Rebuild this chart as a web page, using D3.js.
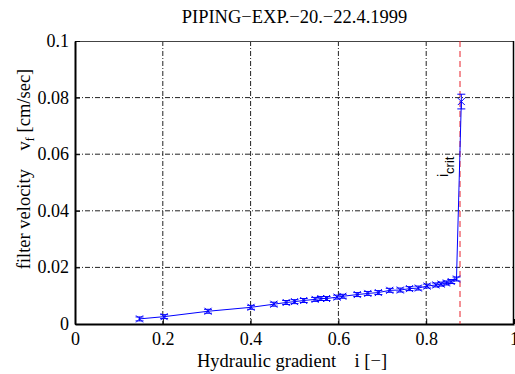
<!DOCTYPE html>
<html>
<head>
  <meta charset="utf-8">
  <script src="https://d3js.org/d3.v7.min.js"></script>
  <style>
    body { margin: 0; background: #fff; }
    text { font-family: "Liberation Serif", "Times New Roman", serif; fill: #000; }
    .crit { font-family: "Liberation Sans", Arial, sans-serif; }
  </style>
</head>
<body>
  <div id="chart"></div>
  <script type="text/javascript">
  // hydraulic gradient i [-]
  var gradient = [0.147, 0.203, 0.303, 0.401, 0.453, 0.481, 0.500, 0.521, 0.547, 0.560,
                  0.573, 0.597, 0.610, 0.643, 0.667, 0.691, 0.717, 0.741, 0.762, 0.782,
                  0.802, 0.822, 0.834, 0.846, 0.857, 0.869, 0.880];
  // filter velocity v_f [cm/sec]
  var velocity = [0.0018, 0.0026, 0.0045, 0.0059, 0.0070, 0.0076, 0.0079, 0.0083, 0.0087, 0.0090,
                  0.0090, 0.0095, 0.0098, 0.0104, 0.0108, 0.0111, 0.0119, 0.0120, 0.0125, 0.0127,
                  0.0134, 0.0138, 0.0141, 0.0145, 0.0150, 0.0159, 0.0786];
  var errors = [0.0007, 0.0007, 0.0007, 0.0007, 0.0007, 0.0007, 0.0007, 0.0007, 0.0007, 0.0007,
                0.0007, 0.0007, 0.0007, 0.0007, 0.0007, 0.0007, 0.0007, 0.0007, 0.0007, 0.0007,
                0.0007, 0.0007, 0.0007, 0.0007, 0.0007, 0.0007, 0.0026];
  var iCrit = 0.877;
  var xTicks = [0, 0.2, 0.4, 0.6, 0.8, 1];
  var yTicks = [0, 0.02, 0.04, 0.06, 0.08, 0.1];

  var width = 515, height = 374;
  var mLeft = 75, mRight = 514, mTop = 41, mBottom = 324;

  var svg = d3.select("#chart").append("svg")
      .attr("width", width)
      .attr("height", height);

  svg.append("rect").attr("width", width).attr("height", height).attr("fill", "#fff");

  var x = d3.scaleLinear().domain([0, 1]).range([mLeft, mRight]);
  var y = d3.scaleLinear().domain([0, 0.1]).range([mBottom, mTop]);

  // grid (dash-dot)
  var grid = svg.append("g");
  grid.selectAll(".gx").data(xTicks.slice(1, -1)).enter().append("line")
      .attr("x1", function(d) { return x(d); }).attr("x2", function(d) { return x(d); })
      .attr("y1", mTop).attr("y2", mBottom)
      .attr("stroke", "#222").attr("stroke-width", 1)
      .attr("stroke-dasharray", "5,2,1,2");
  grid.selectAll(".gy").data(yTicks.slice(1, -1)).enter().append("line")
      .attr("y1", function(d) { return y(d); }).attr("y2", function(d) { return y(d); })
      .attr("x1", mLeft).attr("x2", mRight)
      .attr("stroke", "#222").attr("stroke-width", 1)
      .attr("stroke-dasharray", "5,2,1,2");

  // box: top and right
  svg.append("line").attr("x1", mLeft).attr("x2", mRight).attr("y1", mTop + 0.5).attr("y2", mTop + 0.5)
      .attr("stroke", "#444").attr("stroke-width", 1);
  svg.append("line").attr("x1", mRight - 0.5).attr("x2", mRight - 0.5).attr("y1", mTop).attr("y2", mBottom)
      .attr("stroke", "#000").attr("stroke-width", 1.5);

  // axes
  var xAxis = d3.axisBottom(x).tickValues(xTicks).tickSizeInner(-5).tickSizeOuter(0)
      .tickFormat(function(d) { return d === 0 || d === 1 ? d : d3.format(".1f")(d); });
  var gx = svg.append("g").attr("transform", "translate(0," + mBottom + ")").call(xAxis);
  gx.select(".domain").attr("stroke", "#000").attr("stroke-width", 2);
  gx.selectAll(".tick line").attr("stroke", "#000");
  gx.selectAll(".tick text").attr("y", 21).attr("dy", 0)
      .style("font-family", "Liberation Serif, serif").style("font-size", "18px");

  var yAxis = d3.axisLeft(y).tickValues(yTicks).tickSizeInner(-5).tickSizeOuter(0)
      .tickFormat(function(d) { return d === 0 ? "0" : d === 0.1 ? "0.1" : d3.format(".2f")(d); });
  var gy = svg.append("g").attr("transform", "translate(" + mLeft + ",0)").call(yAxis);
  gy.select(".domain").attr("stroke", "#000").attr("stroke-width", 2);
  gy.selectAll(".tick line").attr("stroke", "#000");
  gy.selectAll(".tick text").attr("x", -6).attr("dy", "0.3em")
      .style("font-family", "Liberation Serif, serif").style("font-size", "18px");

  // critical gradient
  svg.append("line")
      .attr("x1", x(iCrit)).attr("x2", x(iCrit)).attr("y1", mTop).attr("y2", mBottom)
      .attr("stroke", "#e8202a").attr("stroke-width", 1).attr("stroke-dasharray", "6,4");

  var crit = svg.append("text").attr("class", "crit")
      .attr("transform", "translate(" + (x(iCrit) - 12) + ",177) rotate(-90)");
  crit.append("tspan").style("font-size", "14px").text("i");
  crit.append("tspan").attr("dy", 6).style("font-size", "13px").text("crit");

  // data
  var pts = gradient.map(function(g, k) { return { g: g, v: velocity[k], e: errors[k] }; });

  var line = d3.line().x(function(d) { return x(d.g); }).y(function(d) { return y(d.v); });
  svg.append("path").datum(pts).attr("d", line)
      .attr("fill", "none").attr("stroke", "#0000ff").attr("stroke-width", 1);

  var eb = svg.append("g").attr("stroke", "#0000ff").attr("stroke-width", 1);
  pts.forEach(function(d) {
    var cx = x(d.g), y0 = y(d.v - d.e), y1 = y(d.v + d.e), w = 4;
    eb.append("line").attr("x1", cx).attr("x2", cx).attr("y1", y0).attr("y2", y1);
    eb.append("line").attr("x1", cx - w).attr("x2", cx + w).attr("y1", y0).attr("y2", y0);
    eb.append("line").attr("x1", cx - w).attr("x2", cx + w).attr("y1", y1).attr("y2", y1);
    var s = 3.5, cy = y(d.v);
    eb.append("path").attr("d", "M" + (cx - s) + "," + (cy - s) + "L" + (cx + s) + "," + (cy + s) +
        "M" + (cx - s) + "," + (cy + s) + "L" + (cx + s) + "," + (cy - s));
  });

  // title & labels
  svg.append("text").attr("x", (mLeft + mRight) / 2).attr("y", 23)
      .attr("text-anchor", "middle").style("font-size", "18.5px")
      .text("PIPING\u2212EXP.\u221220.\u221222.4.1999");

  svg.append("text").attr("x", 292).attr("y", 367)
      .attr("text-anchor", "middle").style("font-size", "18.5px")
      .style("white-space", "pre")
      .text("Hydraulic gradient    i [\u2212]");

  var yl = svg.append("text").attr("transform", "translate(30,169) rotate(-90)")
      .attr("text-anchor", "middle").style("font-size", "18.5px").style("white-space", "pre");
  yl.append("tspan").text("filter velocity    v");
  yl.append("tspan").attr("dy", 4).style("font-size", "13px").text("f");
  yl.append("tspan").attr("dy", -4).text(" [cm/sec]");
  </script>
</body>
</html>
